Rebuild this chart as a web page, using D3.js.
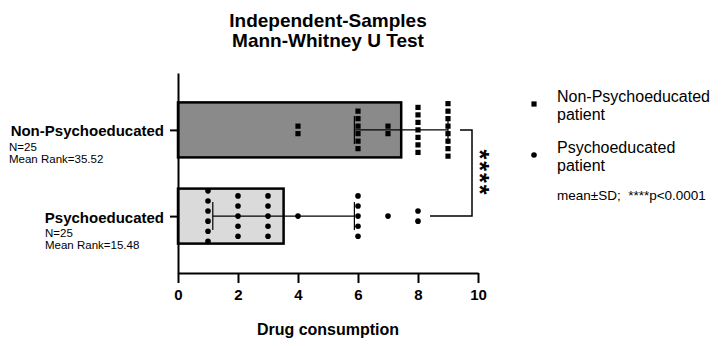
<!DOCTYPE html>
<html>
<head>
<meta charset="utf-8">
<script src="https://cdn.jsdelivr.net/npm/d3@7"></script>
<style>
  body { margin: 0; background: #fff; }
  text { font-family: "Liberation Sans", Arial, sans-serif; }
</style>
</head>
<body>
<div id="viz"></div>
<script>
// chart values
const groups = ['Non-Psychoeducated', 'Psychoeducated'];
const groupN = [25, 25];
const meanRanks = ['35.52', '15.48'];
const means = [7.44, 3.52];
const sds = [1.56, 2.36];
// individual scores: value and how many patients had it
const nonPsychoValues = [4, 6, 7, 8, 9];
const nonPsychoCounts = [2, 6, 2, 7, 8];
const psychoValues = [1, 2, 3, 4, 6, 7, 8];
const psychoCounts = [6, 5, 5, 1, 5, 1, 2];
const xTicks = [0, 2, 4, 6, 8, 10];
const legendLabels = [['Non-Psychoeducated', 'patient'], ['Psychoeducated', 'patient']];
const noteText = 'mean\u00B1SD;  ****p<0.0001';

const config = {
  width: 727,
  height: 346,
  margin: { top: 73, left: 178, right: 249, bottom: 73 }
};

const svg = d3.select('#viz').append('svg')
  .attr('width', config.width)
  .attr('height', config.height);

const x = d3.scaleLinear()
  .domain([0, 10])
  .range([config.margin.left, config.width - config.margin.right]);

const y = d3.scalePoint()
  .domain(groups)
  .range([config.margin.top, config.height - config.margin.bottom])
  .padding(0.66);

const barH = 55;
const fills = ['#8a8a8a', '#dadada'];

// bars (mean)
svg.selectAll('rect.bar')
  .data(groups)
  .join('rect')
  .attr('class', 'bar')
  .attr('x', x(0))
  .attr('y', d => y(d) - barH / 2)
  .attr('width', (d, i) => x(means[i]) - x(0))
  .attr('height', barH)
  .attr('fill', (d, i) => fills[i])
  .attr('stroke', '#000')
  .attr('stroke-width', 2.5);

// error bars (mean ± SD)
const capH = 28;
groups.forEach((g, i) => {
  const lo = means[i] - sds[i], hi = means[i] + sds[i];
  const cy = y(g);
  svg.append('line')
    .attr('x1', x(lo)).attr('x2', x(hi))
    .attr('y1', cy).attr('y2', cy)
    .attr('stroke', '#000').attr('stroke-width', 1.2);
  [lo, hi].forEach(v => {
    svg.append('line')
      .attr('x1', x(v)).attr('x2', x(v))
      .attr('y1', cy - capH / 2).attr('y2', cy + capH / 2)
      .attr('stroke', '#000').attr('stroke-width', 1.2);
  });
});

// points, stacked vertically at each value
function stack(values, counts, step) {
  const pts = [];
  values.forEach((v, i) => {
    for (let k = 0; k < counts[i]; k++) {
      pts.push({ v: v, off: (k - (counts[i] - 1) / 2) * step });
    }
  });
  return pts;
}

const sq = 5.2;
svg.selectAll('rect.pt')
  .data(stack(nonPsychoValues, nonPsychoCounts, 7.5))
  .join('rect')
  .attr('class', 'pt')
  .attr('x', d => x(d.v) - sq / 2)
  .attr('y', d => y(groups[0]) + d.off - sq / 2)
  .attr('width', sq)
  .attr('height', sq)
  .attr('fill', '#000');

svg.selectAll('circle.pt')
  .data(stack(psychoValues, psychoCounts, 10.1))
  .join('circle')
  .attr('class', 'pt')
  .attr('cx', d => x(d.v))
  .attr('cy', d => y(groups[1]) + d.off)
  .attr('r', 2.8)
  .attr('fill', '#000');

// axes
const xAxis = svg.append('g')
  .attr('transform', `translate(0,${config.height - config.margin.bottom})`)
  .call(d3.axisBottom(x).tickValues(xTicks).tickFormat(d3.format('d'))
    .tickSize(10).tickSizeOuter(0).tickPadding(6));
xAxis.selectAll('path, line').attr('stroke', '#000').attr('stroke-width', 2);
xAxis.selectAll('text')
  .attr('fill', '#000')
  .style('font-family', '"Liberation Sans", Arial, sans-serif')
  .style('font-size', '15px')
  .style('font-weight', 'bold');

const yAxis = svg.append('g')
  .attr('transform', `translate(${config.margin.left},0)`)
  .call(d3.axisLeft(y).tickSize(8).tickSizeOuter(0).tickFormat(''));
yAxis.selectAll('path, line').attr('stroke', '#000').attr('stroke-width', 2);

// category labels with N and mean rank
const labelRight = config.margin.left - 14;
groups.forEach((g, i) => {
  const cy = y(g);
  svg.append('text')
    .attr('x', labelRight)
    .attr('y', cy + 6.5)
    .attr('text-anchor', 'end')
    .style('font-size', '15px')
    .style('font-weight', 'bold')
    .text(g);
  const leftX = i === 0 ? 9 : 45;
  svg.append('text')
    .attr('x', leftX).attr('y', cy + 21)
    .style('font-size', '11.5px')
    .text('N=' + groupN[i]);
  svg.append('text')
    .attr('x', leftX).attr('y', cy + 33)
    .style('font-size', '11.5px')
    .text('Mean Rank=' + meanRanks[i]);
});

// significance bracket
const brX = x(10) - 6;
const yTop = y(groups[0]), yBot = y(groups[1]);
svg.append('path')
  .attr('d', `M${x(d3.max(nonPsychoValues)) + 12},${yTop}H${brX}V${yBot}H${x(d3.max(psychoValues)) + 12}`)
  .attr('fill', 'none')
  .attr('stroke', '#000')
  .attr('stroke-width', 1.5);

const starFs = 25;
svg.append('text')
  .attr('transform', `translate(${brX + 13 - 0.57 * starFs},${(yTop + yBot) / 2}) rotate(90)`)
  .attr('text-anchor', 'middle')
  .style('font-size', starFs + 'px')
  .style('font-weight', 'bold')
  .style('letter-spacing', '2px')
  .text('****');

// title
const cx = (x(0) + x(10)) / 2;
['Independent-Samples', 'Mann-Whitney U Test'].forEach((t, i) => {
  svg.append('text')
    .attr('x', cx).attr('y', 26.5 + i * 20)
    .attr('text-anchor', 'middle')
    .style('font-size', '19px')
    .style('font-weight', 'bold')
    .text(t);
});

// x axis title
svg.append('text')
  .attr('x', cx).attr('y', 335)
  .attr('text-anchor', 'middle')
  .style('font-size', '16px')
  .style('font-weight', 'bold')
  .text('Drug consumption');

// legend
const legX = 534, legTextX = 557;
const legend = svg.append('g');
legend.append('rect')
  .attr('x', legX - 2.6).attr('y', 104 - 2.6)
  .attr('width', 5.2).attr('height', 5.2)
  .attr('fill', '#000');
legend.append('circle')
  .attr('cx', legX).attr('cy', 155).attr('r', 2.8)
  .attr('fill', '#000');
legendLabels.forEach((lines, i) => {
  lines.forEach((t, j) => {
    legend.append('text')
      .attr('x', legTextX)
      .attr('y', 101.5 + i * 51 + j * 18)
      .style('font-size', '16px')
      .text(t);
  });
});
legend.append('text')
  .attr('x', legTextX).attr('y', 199.5)
  .attr('xml:space', 'preserve')
  .style('white-space', 'pre')
  .style('font-size', '13.5px')
  .text(noteText);
</script>
</body>
</html>
